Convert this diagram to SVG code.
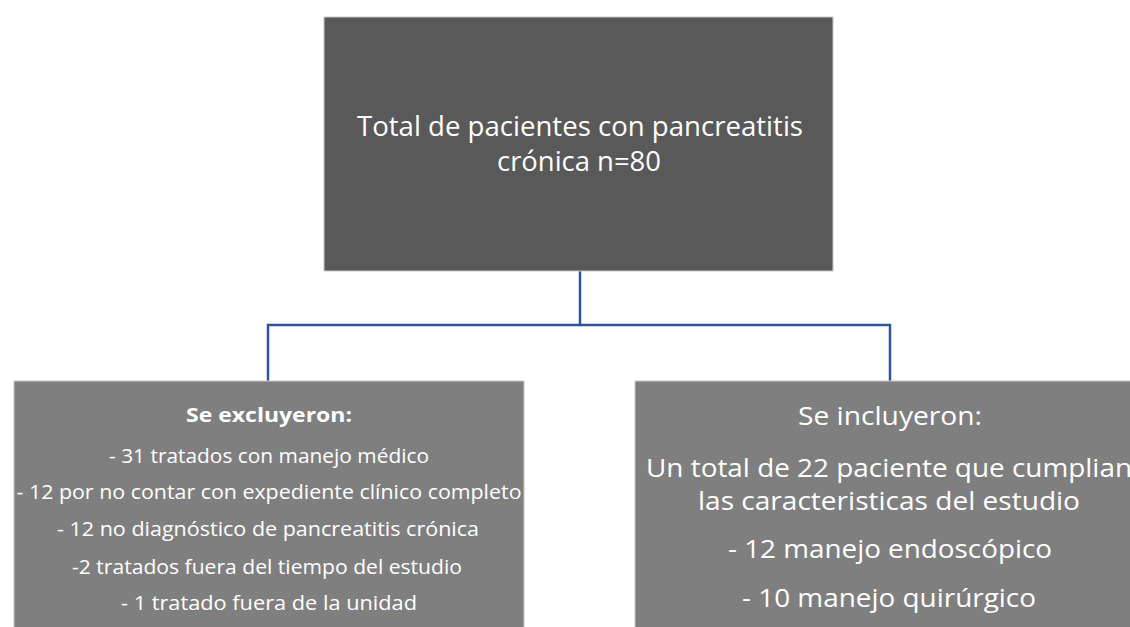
<svg xmlns="http://www.w3.org/2000/svg" width="1130" height="627" viewBox="0 0 1130 627">
<style>
.t{font-family:"Open Sans","Noto Sans",sans-serif;fill:#ffffff;text-anchor:middle}
.c{fill:none;stroke:#2f5597;stroke-width:2.5}
.box{stroke:#c8c8c8;stroke-width:1}
</style>
<rect width="1130" height="627" fill="#ffffff"/>
<g id="connectors">
<path class="c" d="M580,271 V325"/>
<path class="c" d="M268,381 V325 H890 V381"/>
</g>
<g id="total">
<rect class="box" x="324" y="17" width="509" height="254" fill="#595959"/>
<text class="t" x="580" y="136" font-size="28" textLength="446" lengthAdjust="spacingAndGlyphs">Total de pacientes con pancreatitis</text>
<text class="t" x="579" y="171" font-size="28" textLength="164" lengthAdjust="spacingAndGlyphs">crónica n=80</text>
</g>
<g id="excluidos">
<rect class="box" x="14" y="381" width="510" height="250" fill="#7f7f7f"/>
<text class="t" x="269" y="422" font-size="20" font-weight="bold" textLength="166" lengthAdjust="spacingAndGlyphs">Se excluyeron:</text>
<text class="t" x="269" y="463" font-size="20" textLength="320" lengthAdjust="spacingAndGlyphs">- 31 tratados con manejo médico</text>
<text class="t" x="269" y="499" font-size="20" textLength="505" lengthAdjust="spacingAndGlyphs">- 12 por no contar con expediente clínico completo</text>
<text class="t" x="268" y="536" font-size="20" textLength="422" lengthAdjust="spacingAndGlyphs">- 12 no diagnóstico de pancreatitis crónica</text>
<text class="t" x="267" y="574" font-size="20" textLength="390" lengthAdjust="spacingAndGlyphs">-2 tratados fuera del tiempo del estudio</text>
<text class="t" x="269" y="610" font-size="20" textLength="296" lengthAdjust="spacingAndGlyphs">- 1 tratado fuera de la unidad</text>
</g>
<g id="incluidos">
<rect class="box" x="635" y="381" width="510" height="250" fill="#7f7f7f"/>
<text class="t" x="890" y="425" font-size="26" textLength="184" lengthAdjust="spacingAndGlyphs">Se incluyeron:</text>
<text class="t" x="889" y="477" font-size="26" textLength="486" lengthAdjust="spacingAndGlyphs">Un total de 22 paciente que cumplian</text>
<text class="t" x="889" y="510" font-size="26" textLength="382" lengthAdjust="spacingAndGlyphs">las caracteristicas del estudio</text>
<text class="t" x="890" y="558" font-size="26" textLength="324" lengthAdjust="spacingAndGlyphs">- 12 manejo endoscópico</text>
<text class="t" x="889" y="607" font-size="26" textLength="294" lengthAdjust="spacingAndGlyphs">- 10 manejo quirúrgico</text>
</g>
</svg>
